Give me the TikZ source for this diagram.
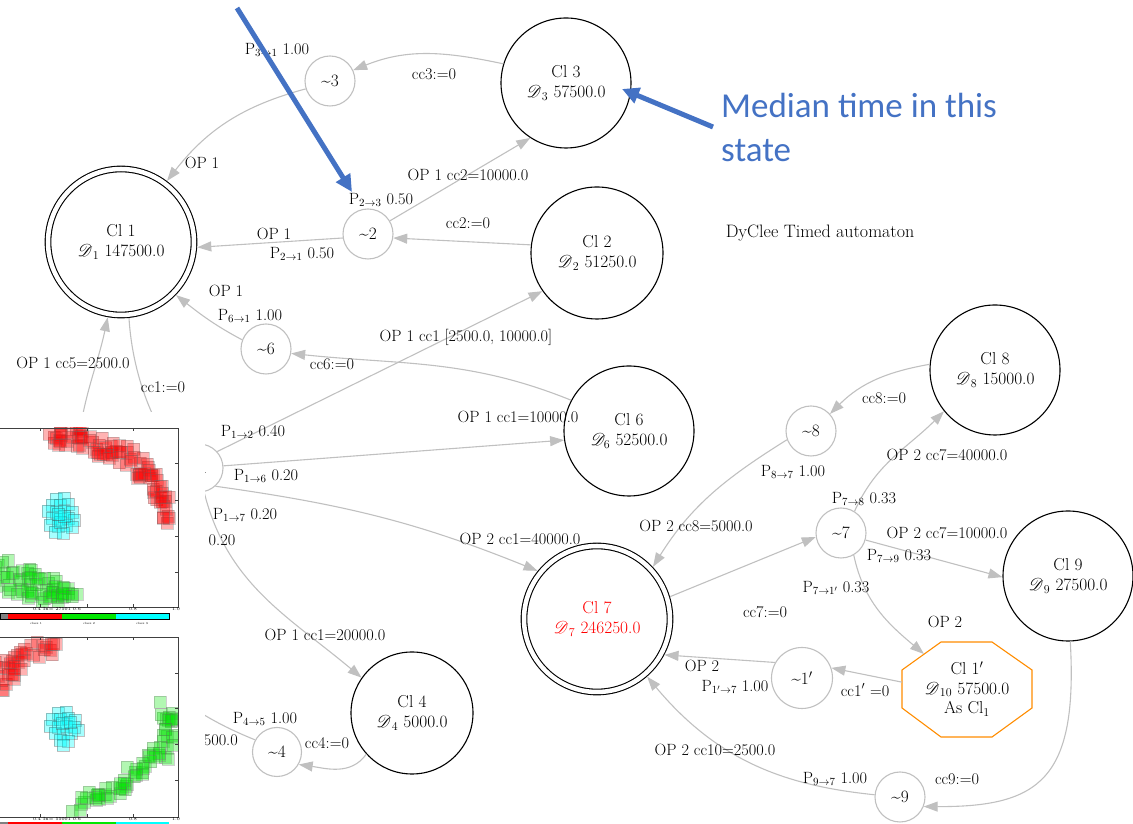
\documentclass[tikz,border=0pt]{standalone}
\usepackage{fontspec}
\usepackage{mathrsfs}
\usetikzlibrary{arrows.meta}
\newfontfamily\carlito{Carlito}
\definecolor{eg}{RGB}{192,192,192}
\definecolor{annblue}{RGB}{68,114,196}
\definecolor{octor}{RGB}{255,140,0}
\definecolor{redcl}{RGB}{255,0,0}
\definecolor{plgreen}{RGB}{0,230,0}
\definecolor{plcyan}{RGB}{0,255,255}
\definecolor{plred}{RGB}{255,0,0}
\newcommand\labfont{\fontsize{16.3}{19}\selectfont}
\newcommand\nodefont{\fontsize{17.3}{19.5}\selectfont}
\newcommand\tinyplfont{\fontsize{4.5}{5}\selectfont}
\newcommand\tinierfont{\fontsize{3}{4}\selectfont}
\newcommand\tld{\textasciitilde}
\begin{document}
\begin{tikzpicture}[x=1pt,y=1pt,
  clnode/.style={circle,draw=black,line width=1.1pt,minimum size=#1,inner sep=0pt,align=center,font=\nodefont},
  clnode/.default=130pt,
  clnodeD/.style={circle,draw=black,line width=1.1pt,double,double distance=4.5pt,minimum size=146pt,outer sep=3.5pt,inner sep=0pt,align=center,font=\nodefont},
  smallst/.style={circle,draw=eg,line width=1.1pt,minimum size=#1,inner sep=0pt,font=\nodefont},
  smallst/.default=50pt,
  edgeg/.style={draw=eg,line width=1.1pt,-{Triangle[length=14pt,width=10pt]}},
  elab/.style={font=\labfont,inner sep=0pt},
  annarrow/.style={draw=annblue,line width=5pt,-{Triangle[length=17pt,width=16pt]}},
  redsq/.style={fill=plred,fill opacity=0.3,draw=black!60,draw opacity=0.3,line width=0.4pt},
  cyansq/.style={fill=plcyan,fill opacity=0.35,draw=black!70,draw opacity=0.35,line width=0.4pt},
  greensq/.style={fill=plgreen,fill opacity=0.3,draw=black!60,draw opacity=0.3,line width=0.4pt},
  plframe/.style={draw=black!75,line width=0.6pt},
  tinylab/.style={font=\tinyplfont,inner sep=0pt},
]
\useasboundingbox (0,0) rectangle (1133,824);

% ---------- cluster nodes ----------
\node[clnodeD] (c1) at (121,582) {Cl 1\\$\mathscr{D}_{\,1}$ 147500.0};
\node[clnode=130pt] (c3) at (566,741) {Cl 3\\$\mathscr{D}_{\,3}$ 57500.0};
\node[clnode=132pt] (c2) at (597,571) {Cl 2\\$\mathscr{D}_{\,2}$ 51250.0};
\node[clnode=130pt] (c6) at (629,393) {Cl 6\\$\mathscr{D}_{6}$\ 52500.0};
\node[clnode=130pt] (c8) at (995,454) {Cl 8\\$\mathscr{D}_{\,8}$ 15000.0};
\node[clnode=130pt] (c9) at (1068,248) {Cl 9\\$\mathscr{D}_{\,9}$ 27500.0};
\node[clnode=122pt] (c4) at (412,111) {Cl 4\\$\mathscr{D}_{\,4}$ 5000.0};
\node[clnodeD,text=redcl] (c7) at (597,205) {Cl 7\\$\mathscr{D}_{\,7}$ 246250.0};
\node[draw=none,minimum width=130pt,minimum height=95pt,outer sep=0pt,inner sep=0pt,align=center,font=\nodefont] (c1p) at (967,135) {Cl 1$'$\\$\mathscr{D}_{\,10}$ 57500.0\\As Cl$_1$};
\draw[octor,line width=1.1pt] ([shift={(-26,47)}]c1p.center) -- ([shift={(25,47)}]c1p.center)
  -- ([shift={(65,19)}]c1p.center) -- ([shift={(65,-19)}]c1p.center)
  -- ([shift={(25,-48)}]c1p.center) -- ([shift={(-26,-48)}]c1p.center)
  -- ([shift={(-65,-19)}]c1p.center) -- ([shift={(-65,19)}]c1p.center) -- cycle;

% ---------- small state nodes ----------
\node[smallst] (s3) at (330,743) {\tld3};
\node[smallst] (s2) at (368,590) {\tld2};
\node[smallst] (s6) at (266,475) {\tld6};
\node[smallst=48pt,font=\labfont] (s1) at (199,356) {\tld1};
\node[smallst] (s8) at (811,393) {\tld8};
\node[smallst] (s7) at (841,291) {\tld7};
\node[smallst=61pt] (s1p) at (802,146) {\tld1$'$};
\node[smallst] (s9) at (900,27) {\tld9};
\node[smallst=49pt] (s4) at (277,72) {\tld4};

\coordinate (c5a) at (80,395);
\coordinate (c5b) at (180,124);
\coordinate (c1ptip) at (924,170);

% ---------- edges ----------
\draw[edgeg] (c3.163) to[out=168,in=22] (s3.25);
\draw[edgeg] (s3.198) to[out=195,in=52] (c1.53);
\draw[edgeg] (s2.31) -- (c3.237);
\draw[edgeg] (c2.173) -- (s2.351);
\draw[edgeg] (s2.189) -- (c1.356);
\draw[edgeg] (s1.42) -- (c2.215);
\draw[edgeg] (c6.152) to[out=158,in=-6] (s6.350);
\draw[edgeg] (s6.159) to[out=152,in=-38] (c1.316);
\draw[edgeg] (s1.5) -- (c6.188);
\draw[edgeg] (s1.312) to[out=-8,in=158] (c7.141);
\draw[edgeg] (s1.282) to[out=-76,in=140] (c4.145);
\draw[edgeg] (c1.276) .. controls (133,440) and (160,390) .. (s1);
\draw[edgeg] (c5a) to[out=80,in=258] (c1.260);
\draw[edgeg] (c4.222) to[out=235,in=-8] (s4.330);
\draw[edgeg] (s4.151) to[out=158,in=-32] (c5b);
\draw[edgeg] (c7.17) -- (s7.189);
\draw[edgeg] (s7.58) to[out=66,in=225] (c8.219);
\draw[edgeg] (c8.175) to[out=190,in=45] (s8.42);
\draw[edgeg] (s8.200) to[out=212,in=58] (c7.43);
\draw[edgeg] (s7.344) -- (c9.181);
\draw[edgeg] (s7.300) to[out=-78,in=140] (c1ptip);
\draw[edgeg] (c1p.174) -- (s1p.19);
\draw[edgeg] (s1p.150) -- (c7.332);
\draw[edgeg] (c9.272) .. controls (1078,45) and (1040,17) .. (s9.338);
\draw[edgeg] (s9.175) .. controls (790,38) and (720,60) .. (c7.311);

% ---------- edge labels ----------
\node[elab] (l1) at (434,750) {cc3:=0};
\node[elab] (l2) at (277,774) {P$_{3\to1}$ 1.00};
\node[elab] (l3) at (202,661) {OP 1};
\node[elab] (l4) at (468,649) {OP 1 cc2=10000.0};
\node[elab] (l5) at (381,624) {P$_{2\to3}$ 0.50};
\node[elab] (l6) at (468,601) {cc2:=0};
\node[elab] (l7) at (274,590) {OP 1};
\node[elab] (l8) at (302,570) {P$_{2\to1}$ 0.50};
\node[elab] (l9) at (226,533) {OP 1};
\node[elab] (l10) at (250,508) {P$_{6\to1}$ 1.00};
\node[elab] (l11) at (466,487) {OP 1 cc1 [2500.0, 10000.0]};
\node[elab] (l12) at (332,460) {cc6:=0};
\node[elab] (l13) at (73,461) {OP 1 cc5=2500.0};
\node[elab] (l14) at (163,437) {cc1:=0};
\node[elab] (l15) at (518,407) {OP 1 cc1=10000.0};
\node[elab] (l16) at (253,392) {P$_{1\to2}$ 0.40};
\node[elab] (l17) at (266,348) {P$_{1\to6}$ 0.20};
\node[elab] (l18) at (245,309) {P$_{1\to7}$ 0.20};
\node[elab] (l19) at (222,284) {0.20};
\node[elab] (l20) at (520,285) {OP 2 cc1=40000.0};
\node[elab] (l21) at (325,189) {OP 1 cc1=20000.0};
\node[elab] (l22) at (265,105) {P$_{4\to5}$ 1.00};
\node[elab,anchor=east] (l23) at (238,84) {500.0};
\node[elab] (l24) at (327,81) {cc4:=0};
\node[elab] (l25) at (884,426) {cc8:=0};
\node[elab] (l26) at (793,352) {P$_{8\to7}$ 1.00};
\node[elab] (l27) at (947,369) {OP 2 cc7=40000.0};
\node[elab] (l28) at (864,325) {P$_{7\to8}$ 0.33};
\node[elab] (l29) at (696,298) {OP 2 cc8=5000.0};
\node[elab] (l30) at (947,291) {OP 2 cc7=10000.0};
\node[elab] (l31) at (899,268) {P$_{7\to9}$ 0.33};
\node[elab] (l32) at (836,236) {P$_{7\to1'}$ 0.33};
\node[elab] (l33) at (765,212) {cc7:=0};
\node[elab] (l34) at (945,202) {OP 2};
\node[elab] (l35) at (702,158) {OP 2};
\node[elab] (l36) at (735,137) {P$_{1'\to7}$ 1.00};
\node[elab] (l37) at (865,134) {cc1$'$\hspace{5pt}=0};
\node[elab] (l38) at (715,74) {OP 2 cc10=2500.0};
\node[elab] (l39) at (835,45) {P$_{9\to7}$ 1.00};
\node[elab] (l40) at (957,45) {cc9:=0};
\node[inner sep=0pt,font=\fontsize{18}{20}\selectfont] (title) at (820,591) {DyClee Timed automaton};

% ---------- pasted plot screenshots (pixel coordinates) ----------
\pgfmathsetseed{4242}
\begin{scope}[shift={(0,824)},yscale=-1]
  \fill[white] (0,412) rectangle (205,824);
  % plot 1
  \begin{scope}
    \clip (0,428) rectangle (178,607);
    \foreach \a/\b in {52/436,58/436,64/437,70/437,76/438,82/439,88/441,94/443,100/445,106/447,112/450,118/453,124/456,130/460,136/464,141/468,146/473,150/478,154/484,157/490,160/496,163/502,165/508,166/513}
      \foreach \k in {1,2,3,4} {
        \pgfmathsetmacro\dx{6*rand}\pgfmathsetmacro\dy{11*rand}
        \draw[redsq] (\a+\dx-6,\b+\dy-6) rectangle ++(12,12);}
    \foreach \a/\b in {56/499,64/498,52/505,60/505,68/504,48/511,56/512,64/511,72/512,52/518,60/519,68/518,74/520,50/525,58/526,66/525,72/527,55/532,63/533,60/522,64/516,58/514}
      \draw[cyansq] (\a-6,\b-6) rectangle ++(12,12);
    \foreach \a/\b in {2/566,9/569,16/572,23/575,30/578,37/580,44/582,51/584,58/586,65/588,2/582,9/585,16/588,23/590,30/592,37/594,44/596,51/597,58/598,65/597,70/592}
      \foreach \k in {1,2,3} {
        \pgfmathsetmacro\dx{7*rand}\pgfmathsetmacro\dy{8*rand}
        \draw[greensq] (\a+\dx-6,\b+\dy-6) rectangle ++(12,12);}
  \end{scope}
  \draw[plframe] (0,428) -- (178,428) -- (178,607) -- (0,607);
  \foreach \t in {40,87,133} {\draw[plframe] (\t,428) -- ++(0,3); \draw[plframe] (\t,607) -- ++(0,-3);}
  \foreach \t in {463,500,536,572} \draw[plframe] (178,\t) -- ++(-3,0);
  \fill[gray] (0,613) rectangle (8,619);
  \fill[plred] (8,613) rectangle (62,619);
  \fill[plgreen] (62,613) rectangle (116,619);
  \fill[plcyan] (116,613) rectangle (169,619);
  \draw[black,line width=0.3pt] (0,613) rectangle (169,619);
  \node[tinylab] (p1t1) at (57,609.5) {0.4 In= 27501 0.6};
  \node[tinylab] (p1t2) at (133,609.5) {0.8};
  \node[tinylab] (p1t3) at (176,609.5) {1.0};
  \node[font=\tinierfont,inner sep=0pt] (p1c1) at (36,623) {class 1};
  \node[font=\tinierfont,inner sep=0pt] (p1c2) at (89,623) {class 2};
  \node[font=\tinierfont,inner sep=0pt] (p1c3) at (142,623) {class 3};
  % plot 2
  \begin{scope}
    \clip (0,637) rectangle (178,817);
    \foreach \a/\b in {0/668,7/664,14/660,21/657,28/654,35/651,42/649,49/648,55/648,0/684,5/679,10/674,16/668}
      \foreach \k in {1,2,3} {
        \pgfmathsetmacro\dx{5*rand}\pgfmathsetmacro\dy{8*rand}
        \draw[redsq] (\a+\dx-6,\b+\dy-6) rectangle ++(12,12);}
    \foreach \a/\b in {58/713,66/712,52/719,60/719,68/718,75/720,50/726,58/727,66/726,74/727,78/730,55/733,63/734,71/733,60/740,68/741,63/745,62/723,70/722}
      \draw[cyansq] (\a-6,\b-6) rectangle ++(12,12);
    \foreach \a/\b in {168/710,170/718,169/726,167/734,164/742,160/750,155/757,149/764,142/770,135/775,128/780,120/785,112/790,104/794,96/798,88/801,80/804}
      \foreach \k in {1,2,3,4} {
        \pgfmathsetmacro\dx{9*rand}\pgfmathsetmacro\dy{9*rand}
        \draw[greensq] (\a+\dx-6,\b+\dy-6) rectangle ++(12,12);}
  \end{scope}
  \draw[plframe] (0,637) -- (178,637) -- (178,817) -- (0,817);
  \foreach \t in {40,87,133} {\draw[plframe] (\t,637) -- ++(0,3); \draw[plframe] (\t,817) -- ++(0,-3);}
  \foreach \t in {673,708,744,780} \draw[plframe] (178,\t) -- ++(-3,0);
  \node[tinylab] (p2t1) at (57,819.5) {0.4 In= 55001 0.6};
  \node[tinylab] (p2t2) at (133,819.5) {0.8};
  \node[tinylab] (p2t3) at (176,819.5) {1.0};
  \fill[gray] (0,822) rectangle (8,828);
  \fill[plred] (8,822) rectangle (62,828);
  \fill[plgreen] (62,822) rectangle (116,828);
  \fill[plcyan] (116,822) rectangle (169,828);
\end{scope}

% ---------- annotations ----------
\coordinate (a1s) at (237,816);
\coordinate (a1e) at (352,632);
\coordinate (a2s) at (713,697);
\coordinate (a2e) at (622,735);
\draw[annarrow] (a1s) -- (a1e);
\draw[annarrow] (a2s) -- (a2e);
\node[anchor=base west,inner sep=0pt,text=annblue,font=\carlito\fontsize{35}{44}\selectfont] (note1) at (721,706) {Median time in this};
\node[anchor=base west,inner sep=0pt,text=annblue,font=\carlito\fontsize{35}{44}\selectfont] (note2) at (721,662) {state};
\end{tikzpicture}
\end{document}
